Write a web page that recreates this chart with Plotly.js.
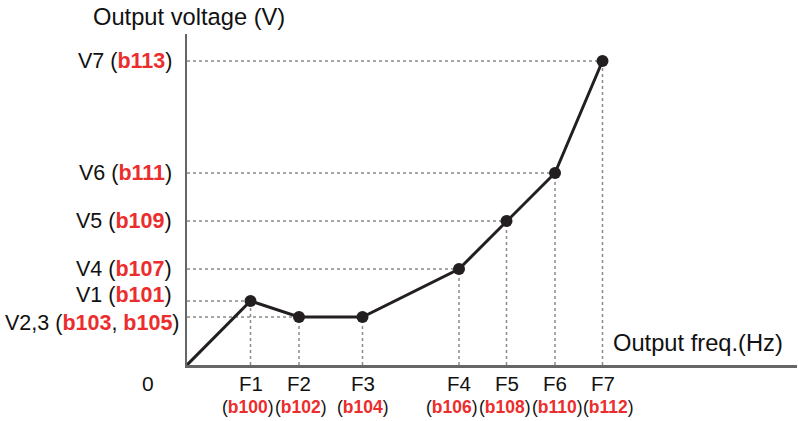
<!DOCTYPE html>
<html><head><meta charset="utf-8">
<script src="https://cdn.plot.ly/plotly-3.0.1.min.js"></script>
<style>html,body{margin:0;padding:0;background:#fff}</style>
</head><body><div id="chart" style="width:798px;height:421px"></div>
<script>
// Data (frequency / voltage setpoints, in chart units)
const pointNames = ["0","F1","F2","F3","F4","F5","F6","F7"];
const freqValues = [0, 63.5, 112, 175.5, 272, 319.5, 368, 415.5];
const voltValues = [0, 64, 48, 48, 96, 144, 192, 304];
const xTickVals = [63.5, 112, 175.5, 272, 319.5, 368, 415.5];
const xTickNames = ["F1","F2","F3","F4","F5","F6","F7"];
const xTickCodes = ["b100","b102","b104","b106","b108","b110","b112"];
const yTickVals = [48, 64, 96, 144, 192, 304];
const yTickNames = ["V2,3","V1","V4","V5","V6","V7"];
const yTickCodes = [["b103","b105"],["b101"],["b107"],["b109"],["b111"],["b113"]];
const guideX = [63.5, 112, 175.5, 272, 319.5, 368, 415.5];
const guideYAtX = [64, 48, 48, 96, 144, 192, 304];
const hGuideY = [64, 48, 96, 144, 192, 304];
const hGuideToX = [63.5, 112, 272, 319.5, 368, 415.5];

const RED = "#ec2d2d";
const FONTNAME = "Liberation Sans";
const FONT = "Liberation Sans, Arial, sans-serif";
const INK = "#111";
const X_RANGE=[0,610], Y_RANGE=[0,331], PLOT_W=610, PLOT_H=331, LEFT=187;

const ctx = document.createElement("canvas").getContext("2d");
function w(txt, size, bold){ctx.font=(bold?"bold ":"")+size+"px "+FONTNAME; return ctx.measureText(txt).width;}

const red = c => "<b><span style='color:"+RED+"'>"+c+"</span></b>";

// ---- y labels (annotations); crowded neighbours spread apart vertically
const Y_SIZE=21.5;
const yText = yTickNames.map((n,i)=> n + " (" + yTickCodes[i].map(red).join(", ") + ")");
const yWidth = yTickNames.map((n,i)=> w(n+" (",Y_SIZE,false) + yTickCodes[i].reduce((s,c)=>s+w(c,Y_SIZE,true),0)
                 + w(")",Y_SIZE,false) + (yTickCodes[i].length-1)*w(", ",Y_SIZE,false));
const minGap=28;
const yShifts = yTickVals.map(()=>0);
for(let i=0;i<yTickVals.length-1;i++){
  const d=(yTickVals[i+1]-yTickVals[i])*PLOT_H/(Y_RANGE[1]-Y_RANGE[0]);
  if(d<minGap){const p=(minGap-d)/2; yShifts[i]-=p; yShifts[i+1]+=p;}
}
const yLabelAnns = yTickVals.map((v,i)=>{
  const xs = -Math.min(13, LEFT-8-yWidth[i]); // keep wide labels inside the page
  return {xref:"x",yref:"y",x:0,y:v,xanchor:"right",yanchor:"middle",xshift:xs,yshift:yShifts[i],
    text:yText[i],showarrow:false,font:{size:Y_SIZE,family:FONT,color:INK}};
});

// ---- x labels: name row + code row; code row de-overlapped horizontally
const C_SIZE=17.5;
const codeW = xTickCodes.map(c=> w("()",C_SIZE,false)+w(c,C_SIZE,true));
const pxOf = v => v*PLOT_W/(X_RANGE[1]-X_RANGE[0]);
let centers = xTickVals.map(pxOf);
for(let iter=0;iter<20;iter++){
  for(let i=0;i<centers.length-1;i++){
    const need=(codeW[i]+codeW[i+1])/2+1, d=centers[i+1]-centers[i];
    if(d<need){const p=(need-d)/2; centers[i]-=p; centers[i+1]+=p;}
  }
}
const xNameAnns = xTickVals.map((v,i)=>({xref:"x",yref:"y",x:v,y:0,xanchor:"center",yanchor:"middle",yshift:-18,
  text:xTickNames[i],showarrow:false,font:{size:20.5,family:FONT,color:INK}}));
const xCodeAnns = xTickVals.map((v,i)=>({xref:"x",yref:"y",x:v,y:0,xanchor:"center",yanchor:"middle",yshift:-42,
  xshift:centers[i]-pxOf(v),text:"("+red(xTickCodes[i])+")",showarrow:false,font:{size:C_SIZE,family:FONT,color:INK}}));

// ---- guide lines
const vx=[], vy=[];
guideX.forEach((x,i)=>{vx.push(x,x,null); vy.push(0,guideYAtX[i],null);});
const hx=[], hy=[];
hGuideY.forEach((y,i)=>{hx.push(0,hGuideToX[i],null); hy.push(y,y,null);});

const traces = [
  {x:vx,y:vy,mode:"lines",line:{color:"#8a8a8a",width:1.5,dash:"dot"},hoverinfo:"skip",showlegend:false},
  {x:hx,y:hy,mode:"lines",line:{color:"#8a8a8a",width:1.5,dash:"dot"},hoverinfo:"skip",showlegend:false},
  {x:freqValues,y:voltValues,text:pointNames,mode:"lines",line:{color:"#231f20",width:3},showlegend:false},
  {x:freqValues.slice(1),y:voltValues.slice(1),mode:"markers",marker:{color:"#231f20",size:12},showlegend:false}
];

const layout = {
  width:798,height:421,
  margin:{l:LEFT,r:1,t:34,b:56},
  paper_bgcolor:"#fff",plot_bgcolor:"#fff",
  font:{family:FONT,color:INK,size:20},
  xaxis:{range:X_RANGE,showgrid:false,zeroline:false,showline:true,linecolor:"#666",linewidth:2.5,
    showticklabels:false,ticks:""},
  yaxis:{range:Y_RANGE,showgrid:false,zeroline:false,showline:true,linecolor:"#666",linewidth:2.5,
    showticklabels:false,ticks:""},
  annotations:[
    {xref:"paper",yref:"paper",x:(91-LEFT)/PLOT_W,y:1,xanchor:"left",yanchor:"middle",yshift:17,
     text:"Output voltage (V)",showarrow:false,font:{size:23.7,family:FONT,color:INK}},
    {xref:"x",yref:"y",x:424,y:0,xanchor:"left",yanchor:"middle",yshift:22,
     text:"Output freq.(Hz)",showarrow:false,font:{size:23.7,family:FONT,color:INK}},
    {xref:"x",yref:"y",x:0,y:0,xanchor:"center",yanchor:"middle",xshift:-39,yshift:-18,
     text:"0",showarrow:false,font:{size:21,family:FONT,color:INK}}
  ].concat(yLabelAnns, xNameAnns, xCodeAnns)
};
Plotly.newPlot("chart",traces,layout,{displayModeBar:false,staticPlot:true});
</script></body></html>
